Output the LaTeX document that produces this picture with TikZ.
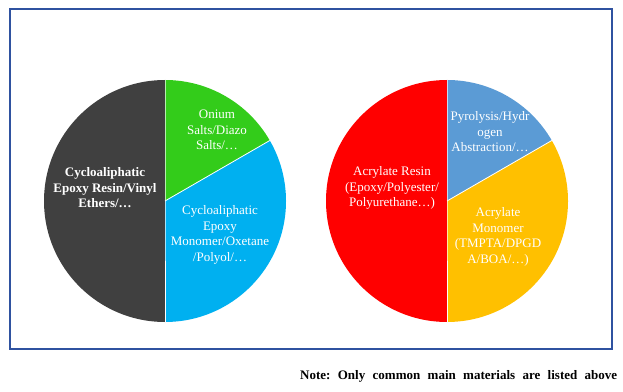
\documentclass[tikz,border=0pt]{standalone}
\usepackage{fontspec}
\setmainfont{Liberation Serif}
\usetikzlibrary{calc}
\definecolor{framecol}{RGB}{47,82,160}
\definecolor{darkslice}{RGB}{64,64,64}
\definecolor{greenslice}{RGB}{51,204,26}
\definecolor{cyanslice}{RGB}{0,176,240}
\definecolor{redslice}{RGB}{255,0,0}
\definecolor{steelslice}{RGB}{91,155,213}
\definecolor{orangeslice}{RGB}{255,192,0}
\frenchspacing
\begin{document}
\begin{tikzpicture}[x=1pt,y=1pt,
  lbl/.style={text=white,align=center,inner sep=0pt,font=\fontsize{13}{15.5}\selectfont},
  sep/.style={draw=white,line width=0.8pt}]
\useasboundingbox (0,0) rectangle (623,391);
\fill[white] (0,0) rectangle (623,391);
\draw[framecol,line width=2pt] (10,42) rectangle (612,381.5);
% left pie
\coordinate (L) at (165,190);
\fill[darkslice] (L) -- ++(90:121) arc[start angle=90,end angle=270,radius=121] -- cycle;
\fill[greenslice] (L) -- ++(30:121) arc[start angle=30,end angle=90,radius=121] -- cycle;
\fill[cyanslice] (L) -- ++(-90:121) arc[start angle=-90,end angle=30,radius=121] -- cycle;
\draw[sep] ($(L)+(90:121)$) -- (L) -- ($(L)+(-90:121)$);
\draw[sep] (L) -- ($(L)+(30:121)$);
% right pie
\coordinate (R) at (447,190);
\fill[redslice] (R) -- ++(90:121) arc[start angle=90,end angle=270,radius=121] -- cycle;
\fill[steelslice] (R) -- ++(30:121) arc[start angle=30,end angle=90,radius=121] -- cycle;
\fill[orangeslice] (R) -- ++(-90:121) arc[start angle=-90,end angle=30,radius=121] -- cycle;
\draw[sep] ($(R)+(90:121)$) -- (R) -- ($(R)+(-90:121)$);
\draw[sep] (R) -- ($(R)+(30:121)$);
% labels
\node[lbl,font=\fontsize{13}{15.5}\selectfont\bfseries] (tdark) at (105,203) {Cycloaliphatic\\Epoxy Resin/Vinyl\\Ethers/…};
\node[lbl] (tgreen) at (217,261) {Onium\\Salts/Diazo\\Salts/…};
\node[lbl] (tcyan) at (220,156) {Cycloaliphatic\\Epoxy\\Monomer/Oxetane\\/Polyol/…};
\node[lbl] (tred) at (392,203) {Acrylate Resin\\(Epoxy/Polyester/\\Polyurethane…)};
\node[lbl] (tsteel) at (490,259) {Pyrolysis/Hydr\\ogen\\Abstraction/…};
\node[lbl] (torange) at (498,154) {Acrylate\\Monomer\\(TMPTA/DPGD\\A/BOA/…)};
\node[anchor=base west,inner sep=0pt,font=\fontsize{13}{15}\selectfont\bfseries] (note) at (300,12)
  {\makebox[317pt][s]{Note: Only common main materials are listed above}};
\end{tikzpicture}
\end{document}
